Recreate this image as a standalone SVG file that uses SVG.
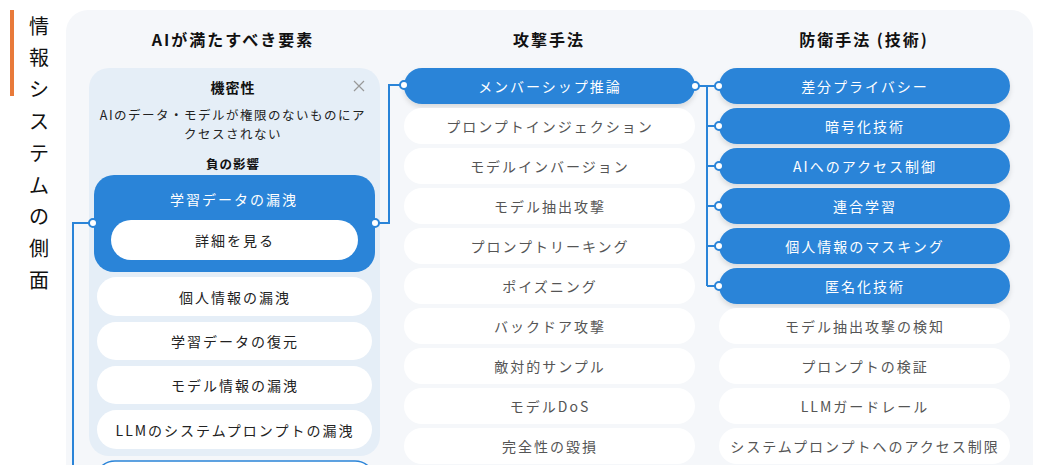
<svg xmlns="http://www.w3.org/2000/svg" width="1046" height="465" viewBox="0 0 1046 465">
<defs>
<style>
text{font-family:"Noto Sans CJK JP","Noto Sans",sans-serif;}
.hdr{font-size:16px;font-weight:700;fill:#111;letter-spacing:2px;text-anchor:middle;}
.vt{font-size:20px;fill:#111;text-anchor:middle;}
.pb{fill:#2a84d8;}
.pw{fill:#fff;}
.tw{font-size:14px;fill:#fff;letter-spacing:2px;text-anchor:middle;dominant-baseline:central;}
.tg{font-size:14px;fill:#555;letter-spacing:2px;text-anchor:middle;dominant-baseline:central;}
.tk{font-size:14px;fill:#222;letter-spacing:2px;text-anchor:middle;dominant-baseline:central;}
.ln{fill:none;stroke:#2a84d8;stroke-width:2;}
.dot{fill:#fff;stroke:#2a84d8;stroke-width:2;}
</style>
<filter id="sh" x="-10%" y="-30%" width="120%" height="170%">
<feDropShadow dx="0" dy="3" stdDeviation="2.5" flood-color="#000" flood-opacity="0.12"/>
</filter>
</defs>
<rect width="1046" height="465" fill="#fff"/>
<rect x="10" y="10" width="4" height="86" fill="#e87a3a"/>
<text class="vt"><tspan x="39" y="34">情</tspan><tspan x="39" y="65">報</tspan><tspan x="39" y="97">シ</tspan><tspan x="39" y="129">ス</tspan><tspan x="39" y="161">テ</tspan><tspan x="39" y="193">ム</tspan><tspan x="39" y="224">の</tspan><tspan x="39" y="256">側</tspan><tspan x="39" y="288">面</tspan></text>
<rect x="66" y="10" width="967" height="480" rx="22" fill="#f5f7fa"/>
<text class="hdr" x="233" y="46">AIが満たすべき要素</text>
<text class="hdr" x="549" y="46">攻撃手法</text>
<text class="hdr" x="864" y="46">防衛手法 (技術)</text>

<g id="confidentiality">
<rect x="89" y="68" width="291" height="388" rx="20" fill="#e5eef7"/>
<text x="233" y="87" font-size="14" font-weight="700" fill="#111" text-anchor="middle" dominant-baseline="central" letter-spacing="1">機密性</text>
<path d="M354 81 L364 91 M364 81 L354 91" stroke="#999" stroke-width="1.2"/>
<text x="233" y="114" font-size="12.5" fill="#222" text-anchor="middle" dominant-baseline="central" letter-spacing="1.5">AIのデータ・モデルが権限のないものにア</text>
<text x="233" y="133" font-size="12.5" fill="#222" text-anchor="middle" dominant-baseline="central" letter-spacing="1.5">クセスされない</text>
<text x="233" y="163" font-size="12.5" font-weight="700" fill="#111" text-anchor="middle" dominant-baseline="central" letter-spacing="1">負の影響</text>
</g>
<g id="leak-training">
<rect x="94" y="175" width="281" height="97" rx="20" class="pb"/>
<text class="tw" x="234" y="199">学習データの漏洩</text>
<rect x="111" y="220" width="247" height="40" rx="20" class="pw"/>
<text class="tk" x="235" y="240">詳細を見る</text>
</g>
<g id="leak-personal"><rect x="97" y="277" width="275" height="39" rx="19.5" class="pw"/><text class="tk" x="235" y="297">個人情報の漏洩</text></g>
<g id="restore-training"><rect x="97" y="322" width="275" height="38" rx="19" class="pw"/><text class="tk" x="235" y="341">学習データの復元</text></g>
<g id="leak-model"><rect x="97" y="366" width="275" height="38" rx="19" class="pw"/><text class="tk" x="235" y="385">モデル情報の漏洩</text></g>
<g id="leak-prompt"><rect x="97" y="410" width="275" height="39" rx="19.5" class="pw"/><text class="tk" x="235" y="430">LLMのシステムプロンプトの漏洩</text></g>
<g id="next-card"><rect x="95" y="461" width="280" height="40" rx="20" fill="#fff" stroke="#2a84d8" stroke-width="1.5"/></g>

<g id="attacks">
<g id="a1"><rect x="404" y="68" width="291" height="36" rx="18" class="pb" filter="url(#sh)"/><text class="tw" x="550" y="86">メンバーシップ推論</text></g>
<g id="a2"><rect x="404" y="108" width="291" height="36" rx="18" class="pw"/><text class="tg" x="550" y="126">プロンプトインジェクション</text></g>
<g id="a3"><rect x="404" y="148" width="291" height="36" rx="18" class="pw"/><text class="tg" x="550" y="166">モデルインバージョン</text></g>
<g id="a4"><rect x="404" y="188" width="291" height="36" rx="18" class="pw"/><text class="tg" x="550" y="206">モデル抽出攻撃</text></g>
<g id="a5"><rect x="404" y="228" width="291" height="36" rx="18" class="pw"/><text class="tg" x="550" y="246">プロンプトリーキング</text></g>
<g id="a6"><rect x="404" y="268" width="291" height="36" rx="18" class="pw"/><text class="tg" x="550" y="286">ポイズニング</text></g>
<g id="a7"><rect x="404" y="308" width="291" height="36" rx="18" class="pw"/><text class="tg" x="550" y="326">バックドア攻撃</text></g>
<g id="a8"><rect x="404" y="348" width="291" height="36" rx="18" class="pw"/><text class="tg" x="550" y="366">敵対的サンプル</text></g>
<g id="a9"><rect x="404" y="388" width="291" height="36" rx="18" class="pw"/><text class="tg" x="550" y="406">モデルDoS</text></g>
<g id="a10"><rect x="404" y="428" width="291" height="36" rx="18" class="pw"/><text class="tg" x="550" y="446">完全性の毀損</text></g>
</g>

<g id="defenses">
<g id="d1"><rect x="719" y="68" width="291" height="36" rx="18" class="pb" filter="url(#sh)"/><text class="tw" x="865" y="86">差分プライバシー</text></g>
<g id="d2"><rect x="719" y="108" width="291" height="36" rx="18" class="pb" filter="url(#sh)"/><text class="tw" x="865" y="126">暗号化技術</text></g>
<g id="d3"><rect x="719" y="148" width="291" height="36" rx="18" class="pb" filter="url(#sh)"/><text class="tw" x="865" y="166">AIへのアクセス制御</text></g>
<g id="d4"><rect x="719" y="188" width="291" height="36" rx="18" class="pb" filter="url(#sh)"/><text class="tw" x="865" y="206">連合学習</text></g>
<g id="d5"><rect x="719" y="228" width="291" height="36" rx="18" class="pb" filter="url(#sh)"/><text class="tw" x="865" y="246">個人情報のマスキング</text></g>
<g id="d6"><rect x="719" y="268" width="291" height="36" rx="18" class="pb" filter="url(#sh)"/><text class="tw" x="865" y="286">匿名化技術</text></g>
<g id="d7"><rect x="719" y="308" width="291" height="36" rx="18" class="pw"/><text class="tg" x="865" y="326">モデル抽出攻撃の検知</text></g>
<g id="d8"><rect x="719" y="348" width="291" height="36" rx="18" class="pw"/><text class="tg" x="865" y="366">プロンプトの検証</text></g>
<g id="d9"><rect x="719" y="388" width="291" height="36" rx="18" class="pw"/><text class="tg" x="865" y="406">LLMガードレール</text></g>
<g id="d10"><rect x="719" y="428" width="291" height="36" rx="18" class="pw"/><text class="tg" x="865" y="446">システムプロンプトへのアクセス制限</text></g>
</g>

<g id="connectors">
<path class="ln" d="M93 223 H73 V470"/>
<path class="ln" d="M375 223 H389 V85 H404"/>
<path class="ln" d="M695 86 H707 V286 M707 86 H719 M707 126 H719 M707 166 H719 M707 206 H719 M707 246 H719 M707 286 H719"/>
<circle class="dot" cx="93" cy="223" r="4"/>
<circle class="dot" cx="375" cy="223" r="4"/>
<circle class="dot" cx="404" cy="85" r="4"/>
<circle class="dot" cx="695" cy="86" r="4"/>
<circle class="dot" cx="719" cy="86" r="4"/>
<circle class="dot" cx="719" cy="126" r="4"/>
<circle class="dot" cx="719" cy="166" r="4"/>
<circle class="dot" cx="719" cy="206" r="4"/>
<circle class="dot" cx="719" cy="246" r="4"/>
<circle class="dot" cx="719" cy="286" r="4"/>
</g>
</svg>
